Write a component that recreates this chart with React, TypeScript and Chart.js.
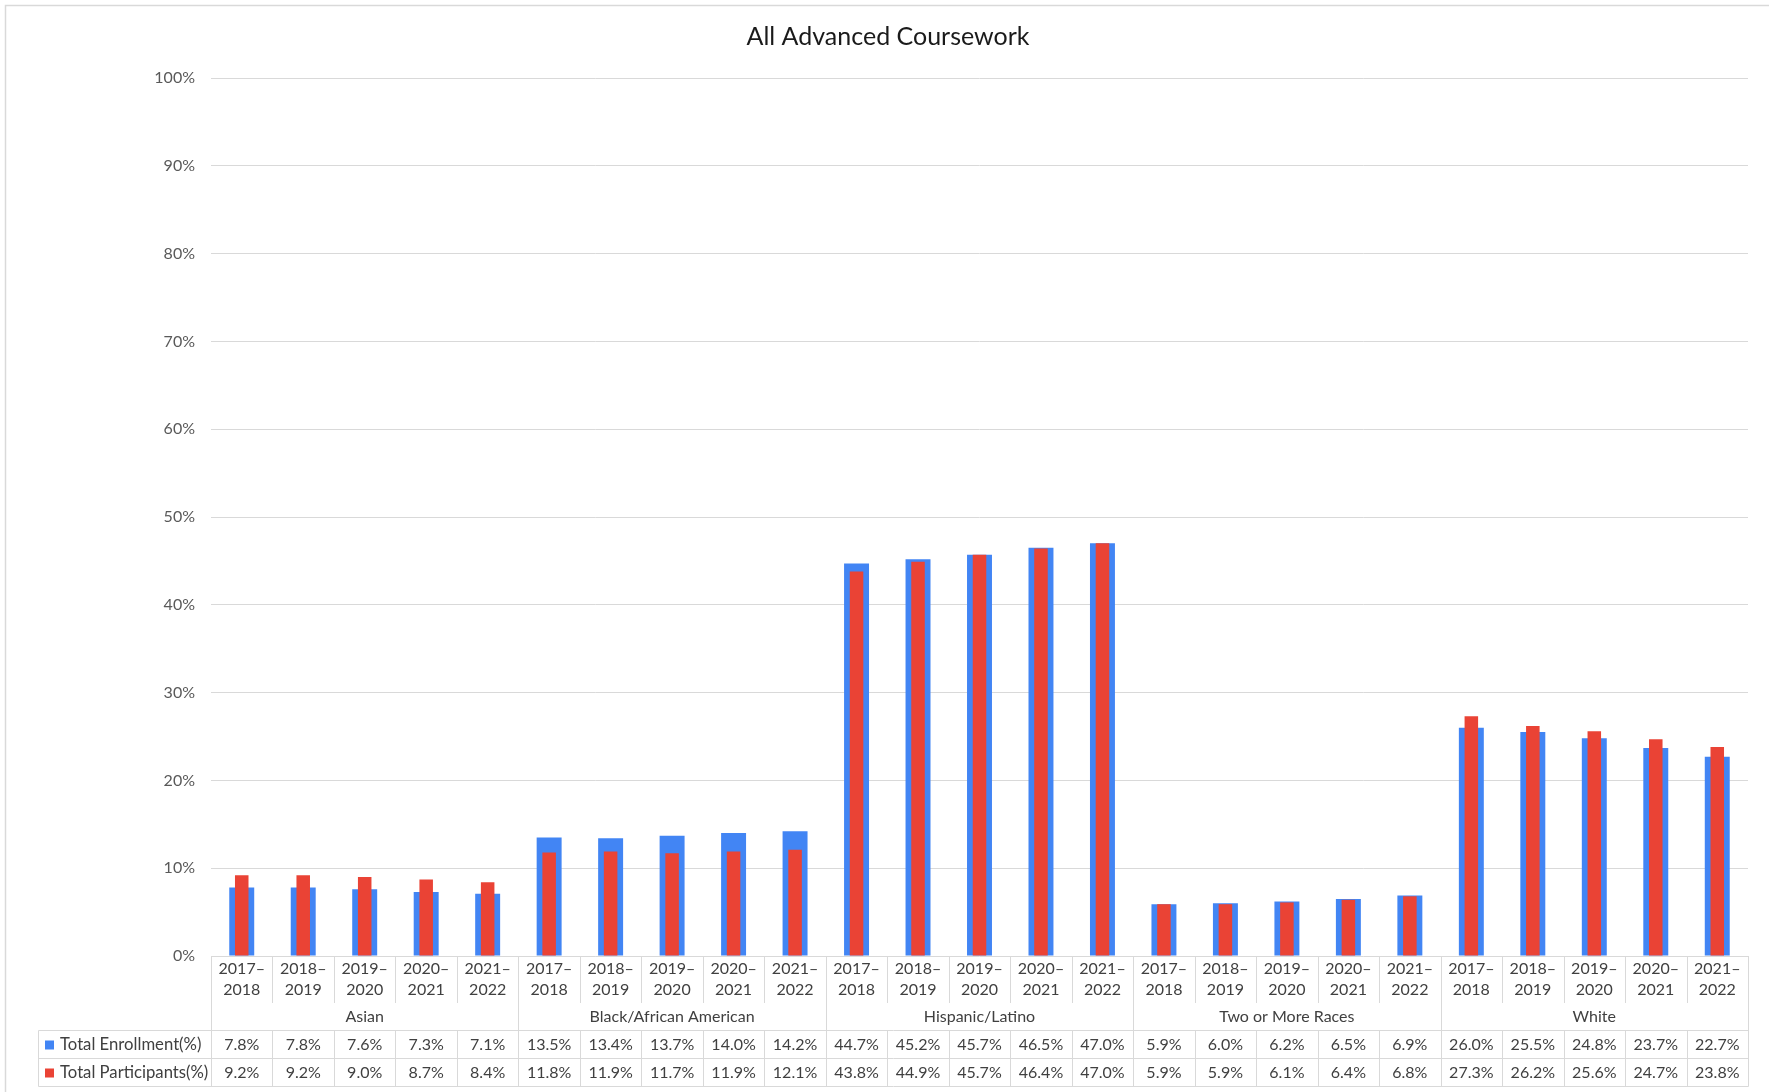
import React, { useEffect, useRef } from 'react';
import { Chart, registerables } from 'chart.js';

Chart.register(...registerables);

const chartTitle = 'All Advanced Coursework';
const groups = ['Asian', 'Black/African American', 'Hispanic/Latino', 'Two or More Races', 'White'];
const years = ['2017–2018', '2018–2019', '2019–2020', '2020–2021', '2021–2022'];
const seriesNames = ['Total Enrollment(%)', 'Total Participants(%)'];
const enrollment = [
  7.8, 7.8, 7.6, 7.3, 7.1,
  13.5, 13.4, 13.7, 14.0, 14.2,
  44.7, 45.2, 45.7, 46.5, 47.0,
  5.9, 6.0, 6.2, 6.5, 6.9,
  26.0, 25.5, 24.8, 23.7, 22.7,
];
const participants = [
  9.2, 9.2, 9.0, 8.7, 8.4,
  11.8, 11.9, 11.7, 11.9, 12.1,
  43.8, 44.9, 45.7, 46.4, 47.0,
  5.9, 5.9, 6.1, 6.4, 6.8,
  27.3, 26.2, 25.6, 24.7, 23.8,
];
const yMax = 100;
const yStep = 10;

const seriesColors = ['#4285F4', '#EA4335'];
const FONT = 'Lato, "Open Sans", sans-serif';

const labels = groups.flatMap(() =>
  years.map((y) => {
    const [a, b] = y.split('–');
    return [a + '–', b];
  })
);

const tablePlugin = {
  id: 'dataTable',
  afterDraw(chart: any) {
    const ctx = chart.ctx as CanvasRenderingContext2D;
    const xs = chart.scales.x;
    const area = chart.chartArea;
    const n = labels.length;
    const c0 = xs.getPixelForValue(0);
    const step = xs.getPixelForValue(1) - c0;
    const half = step / 2;
    const bottom = area.bottom;
    const yearSepBottom = bottom + 47;
    const groupY = bottom + 61;
    const tableTop = Math.round(bottom + 74) + 0.5;
    const row1 = bottom + 89;
    const rowSep = Math.round(bottom + 102) + 0.5;
    const row2 = bottom + 117;
    const tableBottom = Math.round(bottom + 130) + 0.5;
    const tableLeft = 38.5;
    const right = Math.round(area.right) + 0.5;

    ctx.save();
    // outer chart border
    ctx.strokeStyle = '#D9D9D9';
    ctx.lineWidth = 1.5;
    ctx.strokeRect(5.5, 5.5, 1800, 1200);

    // title
    ctx.fillStyle = '#1a1a1a';
    ctx.font = `25px ${FONT}`;
    ctx.textAlign = 'center';
    ctx.textBaseline = 'middle';
    ctx.fillText(chartTitle, 888, 37);

    // table lines
    ctx.strokeStyle = '#D9D9D9';
    ctx.lineWidth = 1;
    ctx.beginPath();
    [tableTop, rowSep, tableBottom].forEach((y) => {
      ctx.moveTo(tableLeft, y);
      ctx.lineTo(right, y);
    });
    ctx.moveTo(tableLeft, tableTop);
    ctx.lineTo(tableLeft, tableBottom);
    for (let i = 0; i <= n; i++) {
      const bx = Math.round(c0 - half + i * step) + 0.5;
      if (i % years.length === 0) {
        ctx.moveTo(bx, bottom);
        ctx.lineTo(bx, tableBottom);
      } else {
        ctx.moveTo(bx, bottom);
        ctx.lineTo(bx, yearSepBottom);
        ctx.moveTo(bx, tableTop);
        ctx.lineTo(bx, tableBottom);
      }
    }
    ctx.stroke();

    // group labels
    ctx.fillStyle = '#404040';
    ctx.font = `16px ${FONT}`;
    ctx.textAlign = 'center';
    groups.forEach((g, gi) => {
      const a = xs.getPixelForValue(gi * years.length);
      const b = xs.getPixelForValue(gi * years.length + years.length - 1);
      ctx.fillText(g, (a + b) / 2, groupY);
    });

    // values
    const rows = [enrollment, participants];
    const rowYs = [row1, row2];
    rows.forEach((vals, ri) => {
      vals.forEach((v, i) => {
        ctx.fillText(v.toFixed(1) + '%', xs.getPixelForValue(i), rowYs[ri]);
      });
    });

    // legend column
    ctx.textAlign = 'left';
    ctx.font = `16.7px ${FONT}`;
    seriesNames.forEach((name, ri) => {
      ctx.fillStyle = seriesColors[ri];
      ctx.fillRect(45, rowYs[ri] - 4.5, 9, 9);
      ctx.fillStyle = '#404040';
      ctx.fillText(name, 60, rowYs[ri]);
    });
    ctx.restore();
  },
};

export default function App() {
  const ref = useRef<HTMLCanvasElement>(null);
  useEffect(() => {
    const chart = new Chart(ref.current as HTMLCanvasElement, {
      type: 'bar',
      data: {
        labels,
        datasets: [
          {
            label: seriesNames[0],
            data: enrollment,
            backgroundColor: seriesColors[0],
            barPercentage: 0.406,
            categoryPercentage: 1,
            grouped: false,
            order: 2,
          } as any,
          {
            label: seriesNames[1],
            data: participants,
            backgroundColor: seriesColors[1],
            barPercentage: 0.22,
            categoryPercentage: 1,
            grouped: false,
            order: 1,
          } as any,
        ],
      },
      options: {
        animation: false,
        responsive: false,
        devicePixelRatio: 1,
        layout: { padding: { top: 78, right: 21, bottom: 0, left: 0 } },
        plugins: {
          legend: { display: false },
          title: { display: false },
          tooltip: { enabled: false },
        },
        scales: {
          x: {
            grid: { display: false },
            border: { display: false },
            ticks: {
              autoSkip: false,
              maxRotation: 0,
              minRotation: 0,
              padding: -6,
              color: '#404040',
              font: { family: FONT, size: 16, lineHeight: 1.3125 },
            },
            afterFit(scale: any) {
              scale.height = 136;
              scale.paddingLeft = 0;
              scale.paddingRight = 0;
            },
          },
          y: {
            min: 0,
            max: yMax,
            grid: { color: '#D9D9D9', lineWidth: 1, drawTicks: false },
            border: { display: false },
            ticks: {
              stepSize: yStep,
              padding: 16,
              color: '#595959',
              font: { family: FONT, size: 16 },
              callback: (v: any) => v + '%',
            },
            afterFit(scale: any) {
              scale.width = 211;
              scale.paddingTop = 0;
              scale.paddingBottom = 0;
            },
          },
        },
      },
      plugins: [tablePlugin],
    });
    return () => chart.destroy();
  }, []);
  return (
    <div style={{ position: 'fixed', left: 0, top: 0, width: 1769, height: 1092, background: '#ffffff' }}>
      <canvas ref={ref} width={1769} height={1092} style={{ display: 'block', width: 1769, height: 1092 }} />
    </div>
  );
}
